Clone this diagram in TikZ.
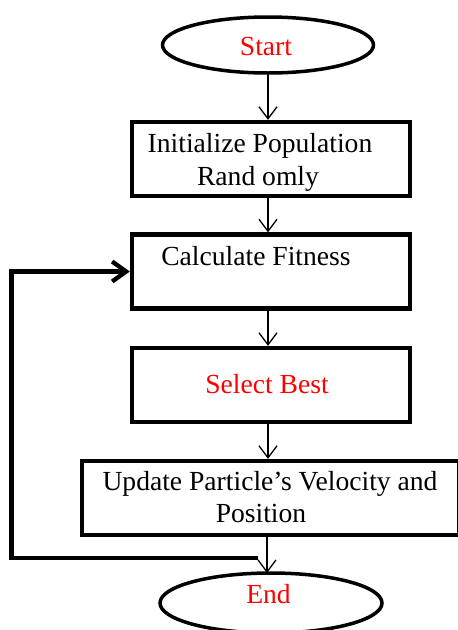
\documentclass[tikz,border=0pt]{standalone}
\usepackage{fontspec}
\setmainfont{Liberation Serif}
\usetikzlibrary{shapes.geometric,arrows.meta}
\begin{document}
\begin{tikzpicture}[x=1pt,y=-1pt,
  boxnode/.style={draw=black,line width=4.3pt,rectangle,inner sep=0pt,minimum width=278pt,minimum height=74pt},
  ovalnode/.style={draw=black,line width=3.5pt,ellipse,inner sep=0pt},
  txt/.style={anchor=base,inner sep=0pt,font=\fontsize{27.6}{33}\selectfont},
  redtxt/.style={txt,text=red},
  flow/.style={draw=black,line width=1.3pt,-{Straight Barb[length=12pt,width=18pt,line width=1.3pt]}},
  backloop/.style={draw=black,line width=4.3pt,line join=miter,-{Straight Barb[length=14pt,width=20pt,line width=4.3pt]}}
]
\useasboundingbox (0,0) rectangle (458,630);
\fill[white] (0,0) rectangle (458,630);
% shapes
\node[ovalnode,minimum width=211pt,minimum height=56pt] (start) at (268,45) {};
\node[boxnode] (box1) at (271,159) {};
\node[boxnode] (box2) at (271,271.5) {};
\node[boxnode] (box3) at (271,385) {};
\node[boxnode,minimum width=377pt] (box4) at (270.5,498) {};
\node[ovalnode,minimum width=222pt,minimum height=60pt] (end) at (271,603) {};
% texts
\node[redtxt] (tstart) at (266,55) {Start};
\node[txt] (t1a) at (260,152) {Initialize Population};
\node[txt] (t1b) at (258,185) {Rand omly};
\node[txt] (t2) at (256,265) {Calculate Fitness};
\node[redtxt] (t3) at (267,393) {Select Best};
\node[txt] (t4a) at (270,490) {Update Particle’s Velocity and};
\node[txt] (t4b) at (261,522) {Position};
\node[redtxt] (tend) at (268.5,603) {End};
% connectors
\draw[flow] (start.south) -- (start.south |- box1.north);
\draw[flow] (box1.south -| start.south) -- (box2.north -| start.south);
\draw[flow] (box2.south -| start.south) -- (box3.north -| start.south);
\draw[flow] (box3.south -| start.south) -- (box4.north -| start.south);
\coordinate (endtop) at (267,573);
\draw[flow] (box4.south -| endtop) -- (endtop);
\coordinate (lp) at (258,558);
\coordinate (corner) at (11.5,558);
\draw[backloop] (lp) -- (corner) |- (box2.west);
\end{tikzpicture}
\end{document}
